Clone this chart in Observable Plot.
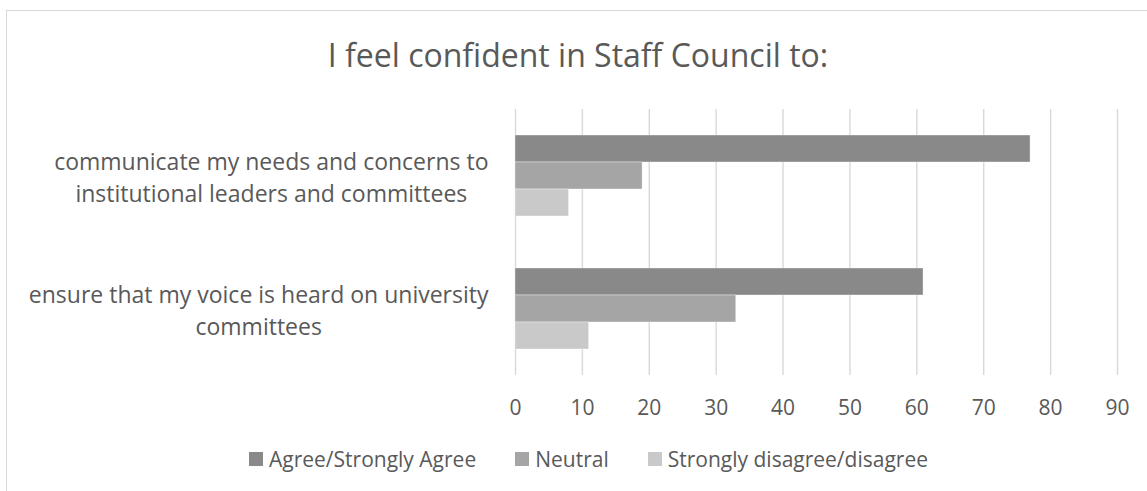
<!DOCTYPE html>
<html><head><meta charset="utf-8">
<script src="https://cdn.jsdelivr.net/npm/d3@7"></script>
<script src="https://cdn.jsdelivr.net/npm/@observablehq/plot@0.6"></script>
<style>
html,body{margin:0;padding:0;background:#fff;}
body{width:1147px;height:491px;position:relative;overflow:hidden;font-family:"Open Sans",sans-serif;color:#595959;}
#frame{position:absolute;left:6px;top:10px;width:1160px;height:500px;border:1px solid #d9d9d9;box-sizing:border-box;}
#title{position:absolute;left:0;top:35px;width:1156px;text-align:center;font-size:32px;line-height:40px;white-space:nowrap;}
#chart{position:absolute;left:0;top:0;}
#legend{position:absolute;left:249px;top:447px;display:flex;align-items:center;font-size:21px;line-height:24px;white-space:nowrap;}
.item{display:flex;align-items:center;margin-right:39px;}
.sw{width:14px;height:14px;margin-right:6px;}
</style></head><body>
<div id="frame"></div>
<div id="title"></div>
<div id="chart"></div>
<div id="legend"></div>
<script>
const title = "I feel confident in Staff Council to:";
const categories = [
  "communicate my needs and concerns to institutional leaders and committees",
  "ensure that my voice is heard on university committees"
];
const categoryLines = [
  ["communicate my needs and concerns to", "institutional leaders and committees"],
  ["ensure that my voice is heard on university", "committees"]
];
const seriesNames = ["Agree/Strongly Agree", "Neutral", "Strongly disagree/disagree"];
const agree = [77, 61];
const neutral = [19, 33];
const disagree = [8, 11];
const xTicks = [0, 10, 20, 30, 40, 50, 60, 70, 80, 90];
const seriesColors = ["#898989", "#a5a5a5", "#c9c9c9"];

const font = "\"Open Sans\", sans-serif";
const labelSize = 23;
const tickFontSize = 21;

const seriesValues = [agree, neutral, disagree];
const rows = [];
categories.forEach((c, i) => {
  seriesNames.forEach((s, j) => rows.push({category: c, series: s, value: seriesValues[j][i]}));
});

document.getElementById("title").textContent = title;

const ctx = document.createElement("canvas").getContext("2d");
ctx.font = `${labelSize}px "Open Sans"`;
const maxW = categoryLines.map(lines => Math.max(...lines.map(l => ctx.measureText(l).width)));

// one centred, multi-line category label per facet
const categoryLabels = categories.map((c, i) => Plot.text([c], {
  fy: d => d,
  frameAnchor: "left",
  text: d => categoryLines[categories.indexOf(d)].join("\n"),
  textAnchor: "middle",
  lineAnchor: "middle",
  dx: -(27 + maxW[i] / 2),
  lineHeight: 1.37,
  fontSize: labelSize,
  fill: "#595959"
}));

const chart = Plot.plot({
  width: 1147,
  height: 420,
  marginLeft: 515,
  marginRight: 30,
  marginTop: 109,
  marginBottom: 45,
  style: {fontFamily: font, color: "#595959", background: "transparent", overflow: "visible"},
  x: {domain: [0, 90]},
  fy: {domain: categories, paddingInner: 0.377, paddingOuter: 0.1885, axis: null},
  y: {domain: seriesNames, padding: 0, axis: null},
  color: {domain: seriesNames, range: seriesColors},
  marks: [
    Plot.ruleX(xTicks, {stroke: "#d9d9d9", strokeWidth: 1.4, insetTop: -25, insetBottom: -25}),
    Plot.barX(rows, {x: "value", y: "series", fy: "category", fill: "series",
      stroke: "#ffffff", strokeWidth: 0.8, strokeOpacity: 0.45}),
    Plot.axisX(xTicks, {anchor: "bottom", tickSize: 0, tickPadding: 50, fontSize: tickFontSize, fill: "#595959", label: null}),
    ...categoryLabels
  ]
});
document.getElementById("chart").appendChild(chart);

const legend = document.getElementById("legend");
seriesNames.forEach((s, i) => {
  const item = document.createElement("div");
  item.className = "item";
  const sw = document.createElement("span");
  sw.className = "sw";
  sw.style.background = seriesColors[i];
  const t = document.createElement("span");
  t.textContent = s;
  item.appendChild(sw);
  item.appendChild(t);
  legend.appendChild(item);
});
</script>
</body></html>
